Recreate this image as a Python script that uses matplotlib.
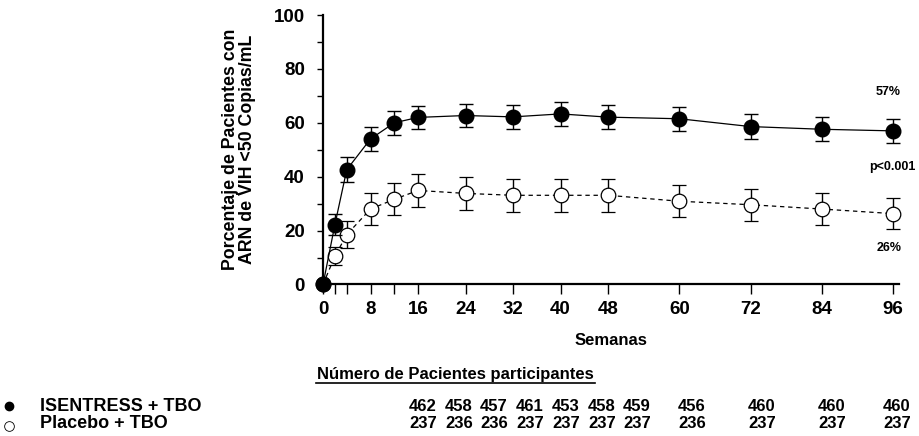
import matplotlib
matplotlib.use("Agg")
import matplotlib.pyplot as plt

plt.rcParams['font.family'] = ['Liberation Sans', 'DejaVu Sans']

# semanas de medición
weeks = [0, 2, 4, 8, 12, 16, 24, 32, 40, 48, 60, 72, 84, 96]
isentress = [0, 22.2, 42.6, 54, 60, 62, 62.7, 62.2, 63.3, 62.1, 61.5, 58.6, 57.6, 57]
isentress_err = [0, 3.8, 4.6, 4.5, 4.5, 4.4, 4.4, 4.4, 4.4, 4.4, 4.5, 4.5, 4.5, 4.4]
placebo = [0, 10.5, 18.5, 28, 31.6, 34.9, 33.8, 33.1, 33.1, 33.1, 30.9, 29.6, 28, 26.3]
placebo_err = [0, 3.4, 4.9, 5.9, 5.9, 6.2, 6.2, 6.1, 6.1, 6.1, 6.0, 5.9, 5.8, 5.7]

tick_weeks = [0, 2, 4, 8, 12, 16, 24, 32, 40, 48, 60, 72, 84, 96]
label_weeks = [0, 8, 16, 24, 32, 40, 48, 60, 72, 84, 96]

n_isentress = [462, 458, 457, 461, 453, 458, 459, 456, 460, 460, 460]
n_placebo = [237, 236, 236, 237, 237, 237, 237, 236, 237, 237, 237]
col_x = [423, 459, 494, 530, 566, 602, 637, 692, 762, 832, 897]  # px

W, H = 920, 436
fig = plt.figure(figsize=(W / 100, H / 100), dpi=100)
ax = fig.add_axes([323 / W, 1 - 284.5 / H, 576 / W, 269.5 / H])

ax.errorbar(weeks, placebo, yerr=placebo_err, color='black', linestyle=(0, (3.5, 3)),
            linewidth=0.9, marker='o', markersize=10.5, markerfacecolor='white',
            markeredgecolor='black', markeredgewidth=0.9, ecolor='black',
            elinewidth=1.0, capsize=5, capthick=1.0, clip_on=False, zorder=3)
ax.errorbar(weeks, isentress, yerr=isentress_err, color='black', linestyle='-',
            linewidth=0.9, marker='o', markersize=10.5, markerfacecolor='black',
            markeredgecolor='black', ecolor='black', elinewidth=1.0,
            capsize=5, capthick=1.0, clip_on=False, zorder=4)

ax.set_xlim(0, 97)
ax.set_ylim(0, 100)
for s in ['top', 'right']:
    ax.spines[s].set_visible(False)
for s in ['left', 'bottom']:
    ax.spines[s].set_linewidth(1.6)

ax.set_xticks(tick_weeks)
ax.set_xticklabels([str(w) if w in label_weeks else '' for w in tick_weeks],
                   fontsize=13.5, fontweight='bold')
ax.set_yticks([0, 20, 40, 60, 80, 100])
ax.set_yticklabels(['0', '20', '40', '60', '80', '100'], fontsize=13.5, fontweight='bold')
ax.set_yticks([10, 30, 50, 70, 90], minor=True)
ax.tick_params(axis='x', length=7, width=1, pad=5)
ax.tick_params(axis='y', which='both', length=4, width=1, pad=9)

ax.set_xlabel('Semanas', fontsize=12, fontweight='bold', labelpad=11)
fig.text(239 / W, 1 - 149 / H, 'Porcentaje de Pacientes con\nARN de VIH <50 Copias/mL',
         fontsize=12.8, fontweight='bold', rotation=90, ha='center', va='center',
         linespacing=0.95)

ax.text(95.2, 71.5, '57%', fontsize=9, fontweight='bold', ha='center', va='center')
ax.text(95.8, 43.5, 'p<0.001', fontsize=9, fontweight='bold', ha='center',
        va='center', clip_on=False)
ax.text(95.3, 13.5, '26%', fontsize=9, fontweight='bold', ha='center', va='center')

narrow = ['Liberation Sans Narrow', 'Liberation Sans', 'DejaVu Sans']
fig.text(455 / W, 1 - 374 / H, 'Número de Pacientes participantes', fontsize=12,
         fontweight='bold', family=narrow, ha='center', va='center')
fig.add_artist(plt.Line2D([316 / W, 595 / W], [1 - 383 / H, 1 - 383 / H],
                          color='black', linewidth=1.2))

row_y = [1 - 406 / H, 1 - 423 / H]
fig.add_artist(plt.Line2D([9 / W], [row_y[0]], marker='o', markersize=6,
                          color='black', markerfacecolor='black'))
fig.add_artist(plt.Line2D([9 / W], [row_y[1] - 0.008], marker='o', markersize=7,
                          color='black', markerfacecolor='white', markeredgewidth=0.6))
fig.text(40 / W, row_y[0], 'ISENTRESS + TBO', fontsize=13, fontweight='bold',
         family=narrow, ha='left', va='center')
fig.text(40 / W, row_y[1], 'Placebo + TBO', fontsize=13, fontweight='bold',
         family=narrow, ha='left', va='center')
for x, a, b in zip(col_x, n_isentress, n_placebo):
    fig.text(x / W, row_y[0], str(a), fontsize=12, fontweight='bold', family=narrow,
             ha='center', va='center')
    fig.text(x / W, row_y[1], str(b), fontsize=12, fontweight='bold', family=narrow,
             ha='center', va='center')

fig.savefig('out.png', dpi=100)
